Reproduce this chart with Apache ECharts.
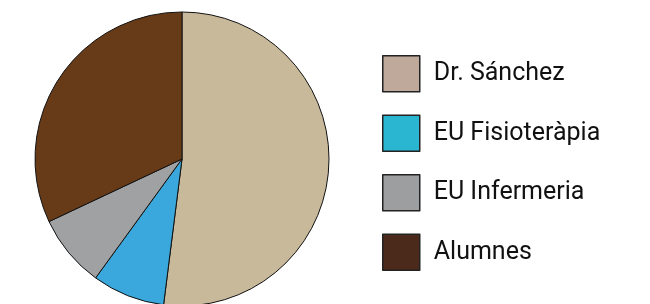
<!DOCTYPE html>
<html>
<head>
<meta charset="utf-8">
<script src="https://cdn.jsdelivr.net/npm/echarts@6/dist/echarts.min.js"></script>
<style>
  html, body { margin: 0; padding: 0; background: #fff; }
  #pie1 { width: 650px; height: 304px; }
</style>
</head>
<body>
<div id="pie1"></div>
<script>
// dades
var categories = ['Dr. Sánchez', 'EU Fisioteràpia', 'EU Infermeria', 'Alumnes'];
var values = [52, 8, 8, 32];
var sliceColors = ['#c9b99b', '#3aa8dc', '#a0a1a3', '#683b18'];
var legendColors = ['#bfa99a', '#2ab6d1', '#9d9ea0', '#4b2a1c'];

var myChart = echarts.init(document.getElementById('pie1'));

myChart.setOption({
    animation: false,
    legend: {
        orient: 'vertical',
        left: 382,
        top: 55,
        padding: 0,
        itemWidth: 37,
        itemHeight: 36,
        itemGap: 22,
        icon: 'rect',
        data: categories.map(function (name, i) {
            return {
                name: name,
                itemStyle: { color: legendColors[i], borderColor: '#222', borderWidth: 1.5 }
            };
        }),
        textStyle: {
            color: '#111',
            fontFamily: 'Roboto',
            fontSize: 25,
            padding: [0, 0, 0, 9]
        }
    },
    series: [{
        type: 'pie',
        radius: 147,
        center: [182, 159],
        startAngle: 90,
        clockwise: true,
        avoidLabelOverlap: false,
        silent: true,
        data: categories.map(function (name, i) {
            return { name: name, value: values[i], itemStyle: { color: sliceColors[i] } };
        }),
        label: { show: false },
        labelLine: { show: false },
        itemStyle: {
            borderColor: '#111',
            borderWidth: 1
        }
    }]
});
</script>
</body>
</html>
